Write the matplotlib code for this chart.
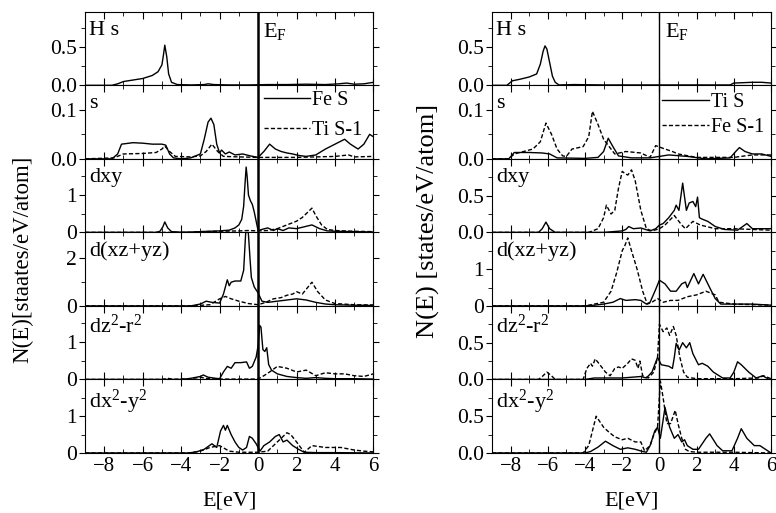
import matplotlib
matplotlib.use("Agg")
import matplotlib.pyplot as plt

plt.rcParams['font.family'] = ['Liberation Serif', 'DejaVu Serif']
plt.rcParams['mathtext.fontset'] = 'custom'
plt.rcParams['mathtext.rm'] = 'Liberation Serif'
plt.rcParams['mathtext.it'] = 'Liberation Serif:italic'

# ---------------- left column (Fe S / Ti S-1) ----------------
hs_fe_E = [-9, -7.6, -7.3, -7.0, -6.5, -6.0, -5.5, -5.2, -5.0, -4.92, -4.85, -4.75, -4.65, -4.5, -4.2,
           -3.5, -2.8, -2.6, -2.3, -1.5, -0.5, 0.5, 1.5, 2.5, 3.5, 4.2, 4.6, 5.0, 5.5, 6.0]
hs_fe = [0, 0, 0.02, 0.05, 0.07, 0.09, 0.13, 0.18, 0.27, 0.4, 0.53, 0.38, 0.15, 0.04, 0.01,
         0.005, 0.01, 0.02, 0.01, 0.005, 0.005, 0.01, 0.01, 0.015, 0.01, 0.02, 0.03, 0.015, 0.02, 0.04]

s_fe_E = [-9, -7.6, -7.3, -7.1, -6.5, -6.0, -5.5, -5.0, -4.8, -4.6, -4.4, -4.0, -3.5, -3.0, -2.8, -2.6,
          -2.45, -2.3, -2.15, -2.0, -1.9, -1.7, -1.5, -1.2, -0.8, -0.4, 0.0, 0.3, 0.6, 0.9, 1.2, 1.5,
          1.8, 2.1, 2.5, 3.0, 3.5, 4.0, 4.5, 4.8, 5.2, 5.5, 5.8, 6.0]
s_fe = [0, 0, 0.01, 0.03, 0.033, 0.032, 0.03, 0.03, 0.028, 0.01, 0.002, 0.0, 0.002, 0.01, 0.04, 0.075,
        0.083, 0.07, 0.03, 0.012, 0.018, 0.01, 0.014, 0.008, 0.01, 0.006, 0.003, 0.015, 0.03, 0.02, 0.015,
        0.012, 0.01, 0.007, 0.005, 0.008, 0.02, 0.03, 0.04, 0.03, 0.02, 0.03, 0.05, 0.045]
s_ti_E = [-9, -7.5, -7.0, -6.0, -5.3, -5.0, -4.85, -4.6, -4.3, -3.5, -3.0, -2.7, -2.4, -2.1, -1.8,
          -1.0, 0.0, 1.0, 2.0, 3.0, 4.0, 4.7, 5.0, 6.0]
s_ti = [0, 0.002, 0.01, 0.011, 0.013, 0.02, 0.026, 0.015, 0.005, 0.004, 0.006, 0.015, 0.03, 0.015, 0.005,
        0.004, 0.003, 0.003, 0.003, 0.004, 0.005, 0.008, 0.004, 0.005]

dxy_fe_E = [-9, -5.3, -5.1, -4.95, -4.85, -4.7, -4.5, -4.0, -3.5, -3.0, -2.5, -2.0, -1.5, -1.2, -1.0,
            -0.85, -0.75, -0.68, -0.62, -0.57, -0.5, -0.4, -0.3, -0.2, -0.1, 0.0, 0.2, 0.5, 0.8, 1.0,
            1.3, 1.6, 2.0, 2.4, 2.8, 3.2, 3.6, 4.0, 5.0, 6.0]
dxy_fe = [0, 0, 0.03, 0.15, 0.28, 0.12, 0.02, 0.005, 0.01, 0.02, 0.03, 0.04, 0.06, 0.12, 0.2,
          0.35, 0.7, 1.3, 1.75, 1.5, 1.0, 0.85, 0.75, 0.55, 0.3, 0.05, 0.08, 0.12, 0.05, 0.1,
          0.05, 0.12, 0.1, 0.15, 0.2, 0.1, 0.04, 0.03, 0.02, 0.01]
dxy_ti_E = [-9, -3.5, -3.0, -2.0, -1.0, -0.5, 0.0, 0.5, 1.0, 1.5, 2.0, 2.3, 2.6, 2.8, 3.0, 3.3, 3.6,
            4.0, 5.0, 6.0]
dxy_ti = [0, 0, 0.02, 0.03, 0.04, 0.05, 0.04, 0.05, 0.1, 0.2, 0.3, 0.4, 0.55, 0.65, 0.45, 0.2, 0.08,
          0.05, 0.03, 0.02]

dxz_fe_E = [-9, -3.5, -3.0, -2.7, -2.4, -2.0, -1.8, -1.6, -1.5, -1.4, -1.2, -0.9, -0.75, -0.65, -0.6,
            -0.55, -0.5, -0.42, -0.35, -0.2, 0.0, 0.2, 0.5, 1.0, 1.5, 2.0, 2.5, 3.0, 3.5, 4.0, 5.0, 6.0]
dxz_fe = [0, 0, 0.08, 0.2, 0.15, 0.12, 0.5, 1.1, 0.85, 1.0, 1.05, 1.05, 1.5, 3.0, 3.4,
          3.4, 3.0, 2.0, 1.2, 0.8, 0.55, 0.2, 0.15, 0.2, 0.25, 0.3, 0.25, 0.15, 0.08, 0.05, 0.03, 0.02]
dxz_ti_E = [-9, -3.5, -2.5, -2.0, -1.7, -1.4, -1.0, -0.5, 0.0, 0.4, 0.8, 1.2, 1.5, 1.8, 2.0, 2.3,
            2.6, 2.8, 3.1, 3.5, 4.0, 5.0, 6.0]
dxz_ti = [0, 0, 0.05, 0.3, 0.4, 0.3, 0.2, 0.1, 0.05, 0.15, 0.3, 0.35, 0.45, 0.5, 0.6, 0.5,
          0.8, 1.0, 0.6, 0.25, 0.1, 0.05, 0.04]

dz2_fe_E = [-9, -4.0, -3.5, -3.0, -2.85, -2.6, -2.2, -2.0, -1.8, -1.6, -1.4, -1.2, -0.9, -0.6, -0.45,
            -0.3, -0.1, 0.0, 0.08, 0.15, 0.25, 0.35, 0.45, 0.55, 0.7, 1.0, 1.5, 2.0, 2.5, 3.0, 3.5,
            4.0, 5.0, 6.0]
dz2_fe = [0, 0, 0.03, 0.08, 0.12, 0.06, 0.03, 0.02, 0.2, 0.35, 0.3, 0.45, 0.45, 0.47, 0.3,
          0.35, 0.6, 0.9, 1.45, 1.4, 0.8, 0.75, 0.85, 0.4, 0.25, 0.15, 0.08, 0.05, 0.03, 0.05, 0.03,
          0.02, 0.02, 0.01]
dz2_ti_E = [-9, -5.0, -4.7, -4.4, -3.5, -3.0, -2.6, -2.0, -1.0, 0.0, 0.3, 0.6, 1.0, 1.5, 2.0, 2.5,
            3.0, 3.5, 4.0, 4.5, 5.0, 5.5, 6.0]
dz2_ti = [0, 0, 0.03, 0.005, 0.02, 0.06, 0.02, 0.01, 0.01, 0.01, 0.1, 0.2, 0.35, 0.3, 0.2, 0.25,
          0.1, 0.18, 0.15, 0.15, 0.1, 0.08, 0.15]

dx2_fe_E = [-9, -3.6, -3.2, -2.8, -2.4, -2.15, -1.95, -1.8, -1.7, -1.6, -1.4, -1.2, -1.0, -0.8, -0.6,
            -0.45, -0.3, -0.1, 0.0, 0.1, 0.3, 0.6, 0.9, 1.1, 1.3, 1.5, 1.8, 2.1, 2.4, 3.0, 4.0, 6.0]
dx2_fe = [0, 0, 0.03, 0.1, 0.25, 0.15, 0.6, 0.75, 0.62, 0.75, 0.5, 0.3, 0.15, 0.08, 0.15,
          0.45, 0.4, 0.25, 0.15, 0.05, 0.2, 0.3, 0.45, 0.5, 0.3, 0.35, 0.2, 0.1, 0.02, 0.01, 0.01, 0.0]
dx2_ti_E = [-9, -3.6, -3.0, -2.5, -2.0, -1.5, -1.0, -0.5, 0.0, 0.5, 1.0, 1.3, 1.5, 1.7, 2.0, 2.4,
            2.8, 3.5, 4.3, 5.0, 5.5, 6.0]
dx2_ti = [0, 0, 0.05, 0.15, 0.2, 0.05, 0.02, 0.02, 0.02, 0.05, 0.3, 0.45, 0.55, 0.5, 0.3, 0.02,
          0.2, 0.15, 0.15, 0.08, 0.05, 0.03]

# ---------------- right column (Ti S / Fe S-1) ----------------
hs_ti_E = [-9, -8.2, -7.9, -7.5, -7.0, -6.6, -6.4, -6.25, -6.15, -6.05, -5.9, -5.75, -5.6, -5.4,
           -4.6, -3.0, -1.0, 0.0, 2.0, 3.8, 4.0, 4.5, 5.0, 5.5, 6.0]
hs_ti = [0, 0, 0.06, 0.08, 0.11, 0.15, 0.28, 0.45, 0.52, 0.48, 0.3, 0.12, 0.04, 0.005,
         0.01, 0.005, 0.005, 0.005, 0.005, 0.005, 0.03, 0.035, 0.04, 0.04, 0.03]

s_ti2_E = [-9, -8.1, -7.8, -7.0, -6.3, -5.9, -5.5, -4.0, -3.3, -3.0, -2.75, -2.5, -2.2, -1.5, -0.5,
           0.0, 0.5, 1.5, 2.5, 3.8, 4.1, 4.3, 4.6, 5.0, 5.5, 6.0]
s_ti2 = [0, 0, 0.013, 0.013, 0.012, 0.01, 0.002, 0.001, 0.003, 0.015, 0.042, 0.025, 0.006, 0.002, 0.002,
         0.005, 0.008, 0.005, 0.0, 0.002, 0.015, 0.023, 0.015, 0.01, 0.01, 0.005]
s_fe2_E = [-9, -8.1, -7.8, -6.8, -6.4, -6.1, -5.8, -5.5, -5.2, -5.0, -4.7, -4.1, -3.8, -3.6, -3.3,
           -3.0, -2.7, -2.4, -1.8, -1.0, -0.5, -0.2, 0.3, 0.7, 1.0, 2.0, 4.0, 5.0, 6.0]
s_fe2 = [0, 0, 0.01, 0.02, 0.035, 0.073, 0.05, 0.02, 0.006, 0.005, 0.02, 0.025, 0.045, 0.097, 0.07,
         0.04, 0.025, 0.01, 0.015, 0.012, 0.003, 0.027, 0.02, 0.015, 0.01, 0.003, 0.003, 0.008, 0.008]

dxy_ti2_E = [-9, -6.5, -6.3, -6.1, -5.9, -5.6, -3.0, -2.0, -1.8, -1.65, -1.4, -1.0, -0.5, -0.2, 0.0,
             0.2, 0.5, 0.8, 0.9, 1.05, 1.25, 1.45, 1.6, 1.8, 1.95, 2.05, 2.15, 2.3, 2.6, 3.0, 3.5,
             4.2, 4.7, 5.0, 6.0]
dxy_ti2 = [0, 0, 0.05, 0.14, 0.05, 0.0, 0.0, 0.02, 0.04, 0.08, 0.05, 0.06, 0.02, 0.05, 0.1,
           0.12, 0.2, 0.3, 0.37, 0.3, 0.67, 0.3, 0.4, 0.42, 0.35, 0.48, 0.2, 0.18, 0.15, 0.08, 0.04,
           0.03, 0.12, 0.05, 0.05]
dxy_fe2_E = [-9, -3.8, -3.3, -3.0, -2.85, -2.6, -2.4, -2.2, -2.0, -1.85, -1.7, -1.5, -1.3, -1.0, -0.7,
             -0.4, 0.0, 0.3, 0.8, 1.2, 1.4, 1.8, 2.2, 3.0, 4.0, 6.0]
dxy_fe2 = [0, 0, 0.05, 0.2, 0.37, 0.25, 0.3, 0.6, 0.83, 0.8, 0.78, 0.85, 0.7, 0.3, 0.05,
           0.02, 0.05, 0.1, 0.23, 0.1, 0.05, 0.15, 0.1, 0.05, 0.05, 0.03]

dxz_ti2_E = [-9, -4.0, -3.5, -3.0, -2.5, -2.1, -1.8, -1.3, -1.0, -0.7, -0.5, -0.2, 0.0, 0.3, 0.6,
             0.9, 1.2, 1.4, 1.5, 1.85, 2.1, 2.35, 2.7, 3.0, 3.3, 4.0, 5.0, 6.0]
dxz_ti2 = [0, 0, 0.02, 0.05, 0.1, 0.2, 0.15, 0.17, 0.15, 0.05, 0.1, 0.45, 0.7, 0.6, 0.4,
           0.4, 0.6, 0.65, 0.5, 0.88, 0.6, 0.86, 0.5, 0.2, 0.05, 0.05, 0.05, 0.02]
dxz_fe2_E = [-9, -4.0, -3.5, -3.0, -2.6, -2.3, -2.0, -1.85, -1.7, -1.5, -1.2, -0.9, -0.65, -0.4, -0.1,
             0.2, 0.6, 1.0, 1.5, 2.0, 2.5, 3.0, 3.2, 4.0, 6.0]
dxz_fe2 = [0, 0, 0.05, 0.1, 0.4, 0.9, 1.5, 1.65, 1.85, 1.5, 1.0, 0.4, 0.05, 0.1, 0.2,
           0.1, 0.15, 0.15, 0.25, 0.3, 0.4, 0.3, 0.1, 0.05, 0.02]

dz2_ti2_E = [-9, -4.0, -3.5, -2.0, -1.5, -1.0, -0.7, -0.4, -0.1, 0.1, 0.5, 0.7, 0.8, 0.9, 1.06, 1.25,
             1.45, 1.63, 1.8, 2.1, 2.3, 2.6, 2.9, 3.4, 3.8, 4.0, 4.2, 4.4, 4.8, 5.2, 5.55, 5.9, 6.0]
dz2_ti2 = [0, 0, 0.02, 0.02, 0.03, 0.04, 0.02, 0.1, 0.3, 0.2, 0.18, 0.15, 0.3, 0.49, 0.4, 0.5,
           0.43, 0.5, 0.35, 0.2, 0.22, 0.18, 0.1, 0.02, 0.02, 0.1, 0.24, 0.2, 0.1, 0.02, 0.05, 0.0, 0.0]
dz2_fe2_E = [-9, -6.5, -6.3, -6.05, -5.8, -5.6, -4.1, -3.9, -3.7, -3.6, -3.45, -3.2, -2.9, -2.65, -2.4,
             -2.2, -2.0, -1.7, -1.5, -1.3, -1.15, -1.05, -0.9, -0.6, -0.3, -0.1, 0.0, 0.2, 0.4, 0.55,
             0.75, 0.9, 1.1, 1.3, 1.5, 2.0, 4.0, 5.3, 5.6, 6.0]
dz2_fe2 = [0, 0, 0.04, 0.1, 0.05, 0.0, 0.0, 0.15, 0.22, 0.18, 0.28, 0.2, 0.1, 0.05, 0.15,
           0.17, 0.15, 0.22, 0.28, 0.26, 0.15, 0.25, 0.05, 0.02, 0.1, 0.3, 0.75, 0.65, 0.7, 0.6,
           0.72, 0.6, 0.3, 0.1, 0.03, 0.01, 0.01, 0.02, 0.05, 0.01]

dx2_ti2_E = [-9, -4.0, -3.7, -3.3, -2.9, -2.5, -2.1, -1.7, -1.3, -0.9, -0.7, -0.5, -0.25, -0.1, 0.05,
             0.2, 0.3, 0.55, 0.8, 1.0, 1.2, 1.35, 1.5, 1.8, 2.1, 2.5, 2.7, 3.1, 3.4, 3.9, 4.2, 4.4,
             4.7, 5.1, 5.4, 5.7, 6.0]
dx2_ti2 = [0, 0, 0.02, 0.08, 0.16, 0.1, 0.05, 0.07, 0.05, 0.02, 0.01, 0.1, 0.3, 0.35, 0.2,
           0.45, 0.62, 0.35, 0.2, 0.25, 0.15, 0.18, 0.1, 0.05, 0.05, 0.2, 0.26, 0.1, 0.03, 0.03, 0.2, 0.33,
           0.2, 0.1, 0.1, 0.05, 0.0]
dx2_fe2_E = [-9, -4.1, -3.8, -3.6, -3.4, -3.0, -2.7, -2.4, -2.0, -1.7, -1.3, -1.0, -0.8, -0.5, -0.3,
             -0.1, 0.05, 0.2, 0.4, 0.6, 0.85, 1.0, 1.2, 1.4, 1.6, 2.0, 4.0, 6.0]
dx2_fe2 = [0, 0, 0.1, 0.3, 0.5, 0.35, 0.28, 0.22, 0.18, 0.2, 0.15, 0.15, 0.03, 0.1, 0.25,
           0.35, 0.98, 0.75, 0.4, 0.4, 0.58, 0.4, 0.2, 0.05, 0.02, 0.01, 0.01, 0.0]

labels = ['H s', 's', 'dxy', 'd(xz+yz)', r'dz$^2$-r$^2$', r'dx$^2$-y$^2$']

# (solid, dashed, ymax, major ticks, tick labels, minor ticks)
left_panels = [
    ((hs_fe_E, hs_fe), None, 0.97, [0, 0.5], ['0.0', '0.5'], [0.25, 0.75]),
    ((s_fe_E, s_fe), (s_ti_E, s_ti), 0.15, [0, 0.1], ['0.0', '0.1'], [0.05]),
    ((dxy_fe_E, dxy_fe), (dxy_ti_E, dxy_ti), 1.97, [0, 1], ['0', '1'], [0.5, 1.5]),
    ((dxz_fe_E, dxz_fe), (dxz_ti_E, dxz_ti), 3.1, [0, 2], ['0', '2'], [1]),
    ((dz2_fe_E, dz2_fe), (dz2_ti_E, dz2_ti), 1.97, [0, 1], ['0', '1'], [0.5, 1.5]),
    ((dx2_fe_E, dx2_fe), (dx2_ti_E, dx2_ti), 2.0, [0, 1], ['0', '1'], [0.5, 1.5]),
]
right_panels = [
    ((hs_ti_E, hs_ti), None, 0.97, [0, 0.5], ['0.0', '0.5'], [0.25, 0.75]),
    ((s_ti2_E, s_ti2), (s_fe2_E, s_fe2), 0.15, [0, 0.1], ['0.0', '0.1'], [0.05]),
    ((dxy_ti2_E, dxy_ti2), (dxy_fe2_E, dxy_fe2), 1.0, [0, 0.5], ['0.0', '0.5'], [0.25, 0.75]),
    ((dxz_ti2_E, dxz_ti2), (dxz_fe2_E, dxz_fe2), 2.0, [0, 1], ['0', '1'], [0.5, 1.5]),
    ((dz2_ti2_E, dz2_ti2), (dz2_fe2_E, dz2_fe2), 1.0, [0, 0.5], ['0.0', '0.5'], [0.25, 0.75]),
    ((dx2_ti2_E, dx2_ti2), (dx2_fe2_E, dx2_fe2), 1.0, [0, 0.5], ['0.0', '0.5'], [0.25, 0.75]),
]

fig = plt.figure(figsize=(7.76, 5.13), dpi=100)
dash = (0, (3, 1.6))
TOP, BOTTOM = 0.977, 0.117


def draw_column(left, right, panels, legend_names, legend_xy, legend_sp, vlw):
    gs = fig.add_gridspec(6, 1, left=left, right=right, top=TOP, bottom=BOTTOM, hspace=0)
    axes = []
    for i, (solid, dashed, ymax, ticks, ticklabels, minor) in enumerate(panels):
        ax = fig.add_subplot(gs[i, 0])
        ax.plot(solid[0], solid[1], color='black', lw=1.0, label=legend_names[0])
        if dashed is not None:
            ax.plot(dashed[0], dashed[1], color='black', lw=1.0, linestyle=dash, label=legend_names[1])
        ax.axvline(0, color='black', lw=vlw)
        ax.set_xlim(-9, 6)
        ax.set_ylim(0, ymax)
        ax.set_yticks(ticks)
        ax.set_yticklabels(ticklabels)
        ax.set_yticks(minor, minor=True)
        ax.set_xticks([-8, -6, -4, -2, 0, 2, 4, 6])
        ax.set_xticks(range(-9, 7), minor=True)
        ax.tick_params(axis='x', which='both', direction='in', top=True, labelsize=15, pad=3)
        ax.tick_params(axis='x', which='major', length=5)
        ax.tick_params(axis='x', which='minor', length=3)
        ax.tick_params(axis='y', which='both', direction='out', right=True, labelsize=15.5, pad=2)
        ax.tick_params(axis='y', which='major', length=4)
        ax.tick_params(axis='y', which='minor', length=3)
        if i < 5:
            ax.tick_params(axis='x', labelbottom=False)
        ax.text(0.015, 0.88, labels[i], transform=ax.transAxes, ha='left', va='top', fontsize=16)
        axes.append(ax)
    axes[0].text(0.28, 0.88, r'E$_{\rm F}$', transform=axes[0].get_xaxis_transform(),
                 ha='left', va='top', fontsize=16)
    axes[1].legend(loc='upper left', bbox_to_anchor=legend_xy, frameon=False, fontsize=14.5,
                   handlelength=2.3, handletextpad=0.1, labelspacing=legend_sp, borderpad=0.2)
    axes[5].set_xlabel('E[eV]', fontsize=16, labelpad=11)
    return axes


draw_column(0.1095, 0.4813, left_panels, ['Fe S', 'Ti S-1'], (0.57, 1.12), 0.55, 1.8)
draw_column(0.634, 0.9936, right_panels, ['Ti S', 'Fe S-1'], (0.56, 1.09), 0.3, 1.0)

fig.text(23 / 776, 1 - 259 / 513, 'N(E)[staates/eV/atom]', rotation=90, ha='center', va='center',
         fontsize=16.5)
fig.text(428 / 776, 1 - 221 / 513, 'N(E) [states/eV/atom]', rotation=90, ha='center', va='center',
         fontsize=19)

plt.savefig('out.png', dpi=100)
